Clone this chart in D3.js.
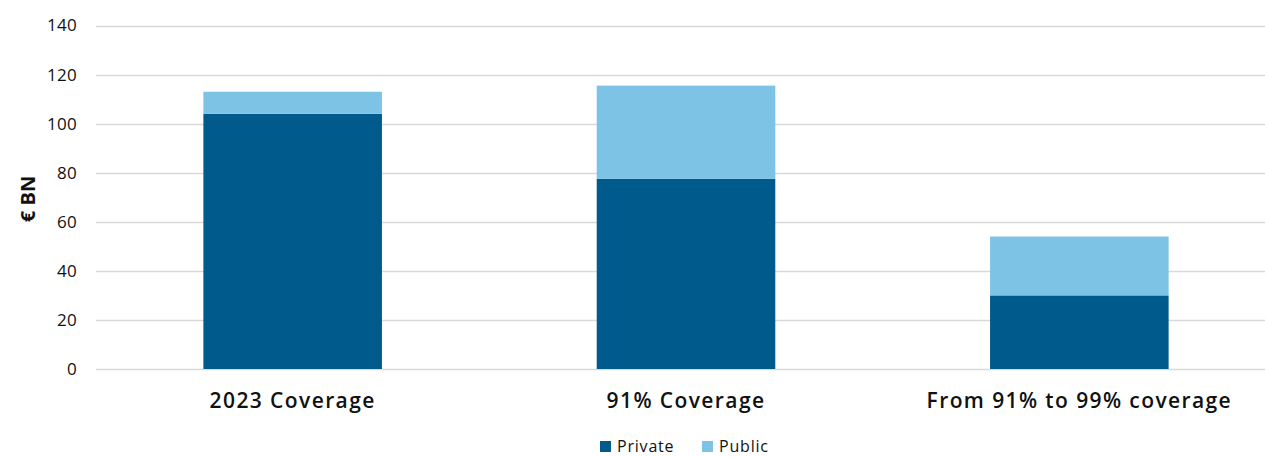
<!DOCTYPE html>
<html>
<head>
<meta charset="utf-8">
<script src="https://cdn.jsdelivr.net/npm/d3@7"></script>
<style>
  body { margin: 0; background: #fff; }
  svg { display: block; font-family: "Open Sans", sans-serif; }
</style>
</head>
<body>
<div id="chart"></div>
<script>
var Width = 1265;
var Height = 457;

// data
var categories = ["2023 Coverage", "91% Coverage", "From 91% to 99% coverage"];
var privateValues = [104, 77.5, 30];
var publicValues = [9, 38, 24];
var yTicks = [0, 20, 40, 60, 80, 100, 120, 140];
var seriesNames = ["Private", "Public"];
var seriesColors = ["#005a8c", "#7cc3e6"];

var rows = categories.map(function(c, i) {
    return { cat: c, Private: privateValues[i], Public: publicValues[i] };
});

var stacked = d3.stack().keys(seriesNames)(rows);

var svg = d3.select("#chart")
    .append("svg")
    .attr("width", Width)
    .attr("height", Height);

var x = d3.scaleBand()
    .domain(categories)
    .range([96, 1276])
    .paddingInner(0.546)
    .paddingOuter(0.273);

var y = d3.scaleLinear()
    .domain([0, 140])
    .range([369, 25.5]);

// gridlines
svg.append("g")
    .selectAll("line")
    .data(yTicks)
    .enter()
    .append("line")
        .attr("x1", 96)
        .attr("x2", Width)
        .attr("y1", function(d) { return Math.round(y(d)) + 0.5; })
        .attr("y2", function(d) { return Math.round(y(d)) + 0.5; })
        .attr("stroke", "#d9d9d9")
        .attr("stroke-width", 1.5);

// left axis, only the labels
var yAxis = svg.append("g")
    .attr("transform", "translate(77,0)")
    .call(d3.axisLeft(y).tickValues(yTicks).tickSize(0).tickPadding(0));
yAxis.select(".domain").remove();
yAxis.selectAll("text")
    .attr("font-family", "'Open Sans', sans-serif")
    .attr("font-size", 17)
    .attr("letter-spacing", 0.3)
    .attr("fill", "#111");

// bars
svg.append("g")
    .selectAll("g")
    .data(stacked)
    .enter()
    .append("g")
        .attr("fill", function(d, i) { return seriesColors[i]; })
    .selectAll("rect")
    .data(function(d) { return d; })
    .enter()
    .append("rect")
        .attr("x", function(d) { return x(d.data.cat); })
        .attr("width", x.bandwidth())
        .attr("y", function(d) { return y(d[1]); })
        .attr("height", function(d) { return y(d[0]) - y(d[1]); });

// bottom axis labels
var xAxis = svg.append("g")
    .attr("transform", "translate(0,369)")
    .call(d3.axisBottom(x).tickSize(0).tickPadding(0));
xAxis.select(".domain").remove();
xAxis.selectAll("text")
    .attr("dy", null)
    .attr("y", 39)
    .attr("font-family", "'Open Sans', sans-serif")
    .attr("font-size", 21)
    .attr("font-weight", 600)
    .attr("letter-spacing", 1.4)
    .attr("fill", "#111");

// y title
svg.append("text")
    .attr("transform", "translate(35,199) rotate(-90)")
    .attr("text-anchor", "middle")
    .attr("font-size", 20)
    .attr("font-weight", 700)
    .attr("fill", "#111")
    .text("€ BN");

// legend
var legendX = [600, 702];
var legend = svg.append("g")
    .selectAll("g")
    .data(seriesNames)
    .enter()
    .append("g")
        .attr("transform", function(d, i) { return "translate(" + legendX[i] + ",441)"; });
legend.append("rect")
    .attr("width", 11)
    .attr("height", 11)
    .attr("fill", function(d, i) { return seriesColors[i]; });
legend.append("text")
    .attr("x", 17)
    .attr("y", 11)
    .attr("font-size", 16)
    .attr("letter-spacing", 0.8)
    .attr("fill", "#111")
    .text(function(d) { return d; });
</script>
</body>
</html>
